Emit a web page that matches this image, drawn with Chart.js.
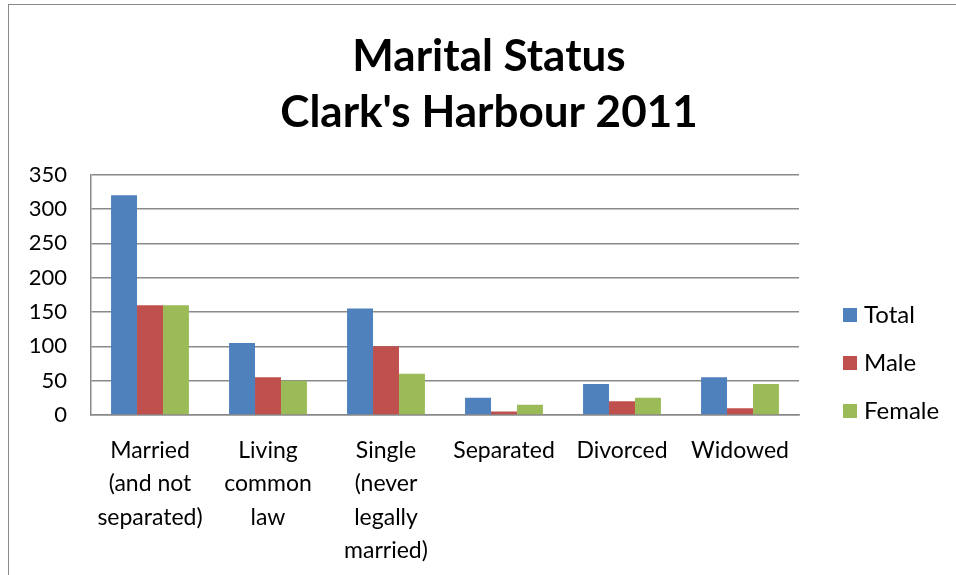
<!DOCTYPE html>
<html>
<head>
<meta charset="utf-8">
<script src="https://cdn.jsdelivr.net/npm/chart.js@4"></script>
<style>
  html, body { margin: 0; padding: 0; background: #fff; overflow: hidden; }
  #wrap { position: relative; width: 956px; height: 575px; }
  #frame { position: absolute; left: 8px; top: 4px; width: 1000px; height: 700px;
           border-left: 1.5px solid #898989; border-top: 1.5px solid #898989; }
  canvas { position: absolute; left: 0; top: 0; }
</style>
</head>
<body>
<div id="wrap">
  <div id="frame"></div>
  <canvas id="chart" width="956" height="575"></canvas>
</div>
<script>
const categories = [
    ["Married", "(and not", "separated)"],
    ["Living", "common", "law"],
    ["Single", "(never", "legally", "married)"],
    "Separated",
    "Divorced",
    "Widowed"
];
const total  = [320, 105, 155, 25, 45, 55];
const male   = [160, 55, 100, 5, 20, 10];
const female = [160, 50, 60, 15, 25, 45];
const yTicks = [0, 50, 100, 150, 200, 250, 300, 350];

const FONT = "Lato, 'Open Sans', sans-serif";

// legenda desenhada a mão, no estilo do Excel
const sideLegend = {
    id: "sideLegend",
    afterDraw(chart) {
        const ctx = chart.ctx;
        ctx.save();
        ctx.font = "24px " + FONT;
        ctx.textBaseline = "middle";
        ctx.textAlign = "left";
        chart.data.datasets.forEach((ds, i) => {
            const cy = 315 + i * 48;
            ctx.fillStyle = ds.backgroundColor;
            ctx.fillRect(843, cy - 7, 14, 14);
            ctx.fillStyle = "#000";
            ctx.fillText(ds.label, 864, cy);
        });
        ctx.restore();
    }
};

new Chart(document.getElementById("chart"), {
    type: "bar",
    data: {
        labels: categories,
        datasets: [
            { label: "Total",  data: total,  backgroundColor: "#4F81BD" },
            { label: "Male",   data: male,   backgroundColor: "#C0504D" },
            { label: "Female", data: female, backgroundColor: "#9BBB59" }
        ]
    },
    options: {
        responsive: false,
        animation: false,
        events: [],
        categoryPercentage: 0.66,
        barPercentage: 1.0,
        layout: { padding: { left: 22, right: 0, top: 0, bottom: 0 } },
        plugins: {
            legend: { display: false },
            tooltip: { enabled: false },
            title: {
                display: true,
                text: ["Marital Status", "Clark's Harbour 2011"],
                color: "#000",
                font: { family: FONT, size: 44, weight: "bold", lineHeight: 1.27 },
                padding: { top: 29, bottom: 34 }
            }
        },
        scales: {
            x: {
                grid: { display: false, drawTicks: false },
                border: { color: "#898989", width: 1.5 },
                ticks: {
                    color: "#000",
                    font: { family: FONT, size: 23, lineHeight: 1.45 },
                    maxRotation: 0,
                    autoSkip: false,
                    padding: 19
                },
                afterFit: scale => { scale.height = 160; }
            },
            y: {
                min: 0,
                max: 350,
                grid: { color: "#898989", lineWidth: 1.5, drawTicks: false },
                border: { color: "#898989", width: 1.5 },
                afterBuildTicks: scale => { scale.ticks = yTicks.map(v => ({ value: v })); },
                ticks: {
                    color: "#000",
                    font: { family: FONT, size: 22 },
                    padding: 24
                },
                afterFit: scale => { scale.width = 69; }
            },
            // eixo vazio só para reservar o espaço da legenda à direita
            side: {
                type: "linear",
                position: "right",
                grid: { display: false, drawTicks: false },
                border: { display: false },
                ticks: { display: false },
                afterFit: scale => { scale.width = 157; }
            }
        }
    },
    plugins: [sideLegend]
});
</script>
</body>
</html>
